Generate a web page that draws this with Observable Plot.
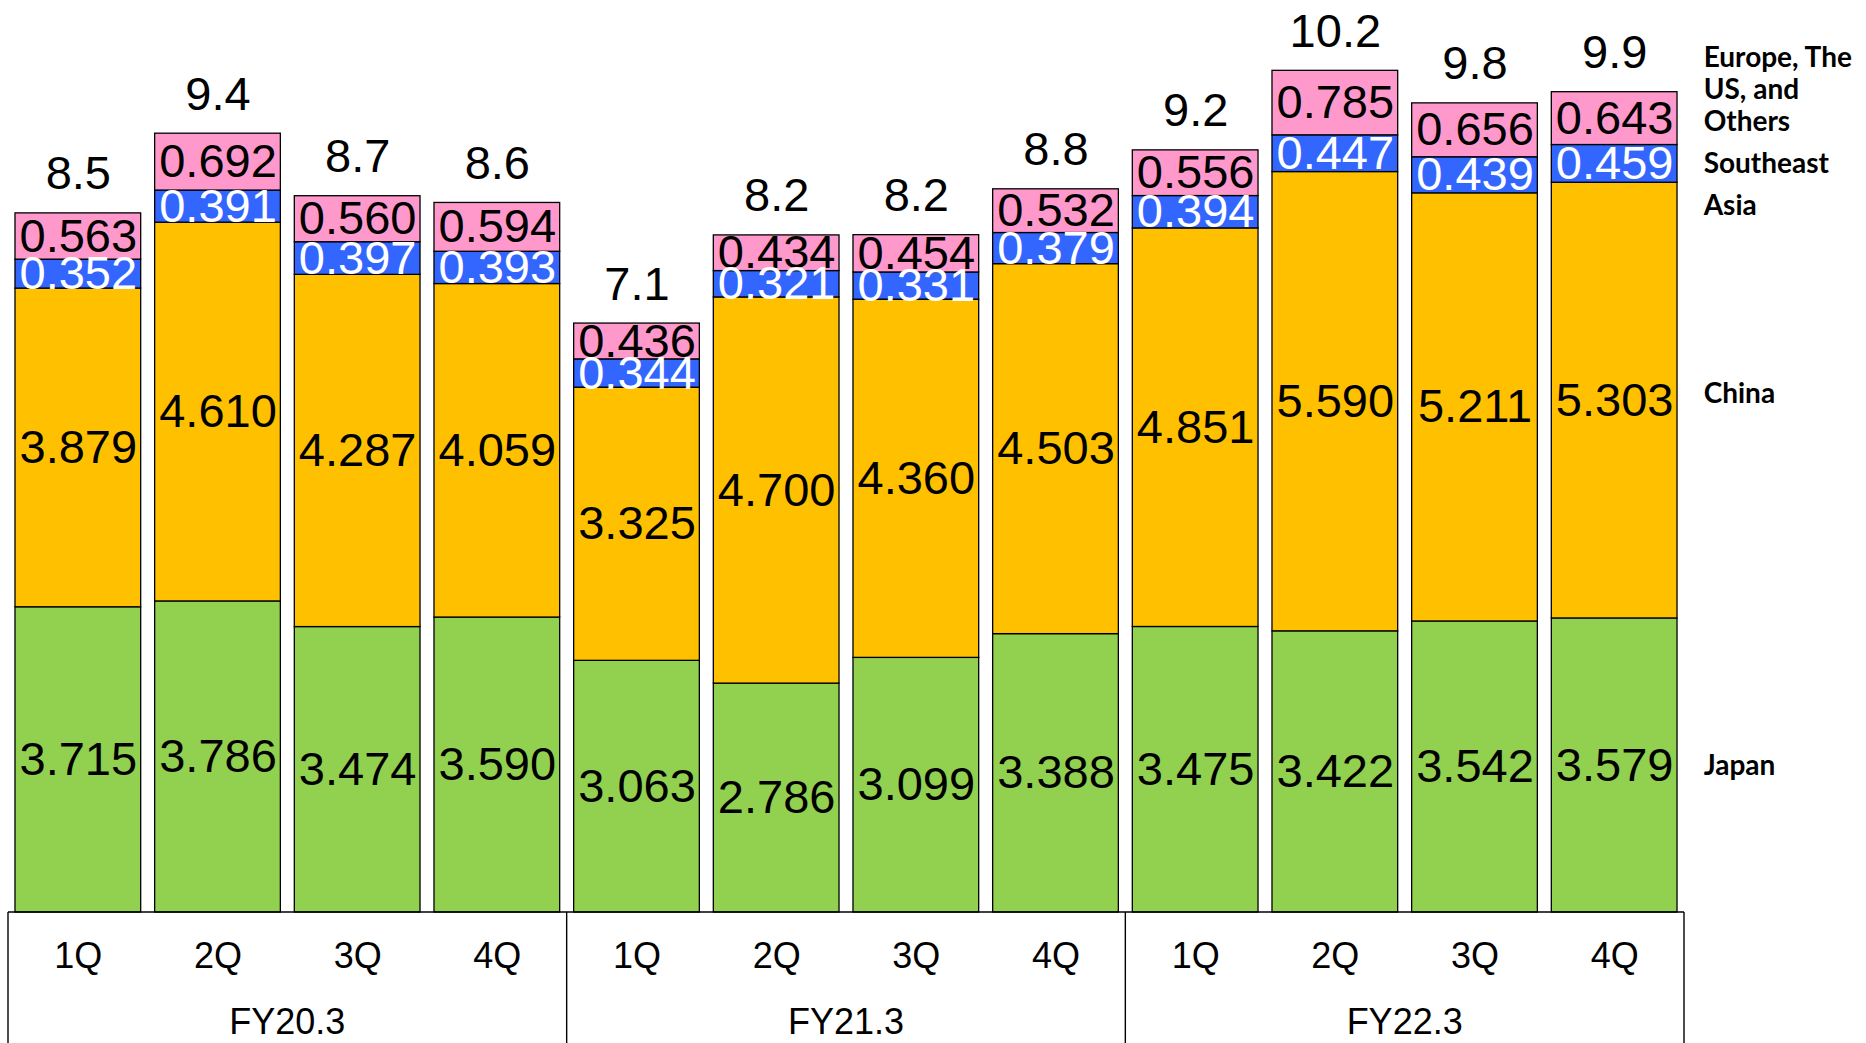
<!DOCTYPE html>
<html>
<head>
<meta charset="utf-8">
<script src="https://cdn.jsdelivr.net/npm/d3@7"></script>
<script src="https://cdn.jsdelivr.net/npm/@observablehq/plot@0.6"></script>
<style>
  html, body { margin: 0; padding: 0; background: #fff; }
  #chart svg { display: block; }
</style>
</head>
<body>
<div id="chart"></div>
<script>
// Quarterly sales by region (stacked), three fiscal years
const fiscalYears = ["FY20.3", "FY21.3", "FY22.3"];
const quarters = ["1Q", "2Q", "3Q", "4Q"];
const regions = ["Japan", "China", "Southeast Asia", "Europe, The US, and Others"];

const japan          = [3.715, 3.786, 3.474, 3.590, 3.063, 2.786, 3.099, 3.388, 3.475, 3.422, 3.542, 3.579];
const china          = [3.879, 4.610, 4.287, 4.059, 3.325, 4.700, 4.360, 4.503, 4.851, 5.590, 5.211, 5.303];
const southeastAsia  = [0.352, 0.391, 0.397, 0.393, 0.344, 0.321, 0.331, 0.379, 0.394, 0.447, 0.439, 0.459];
const europeUsOthers = [0.563, 0.692, 0.560, 0.594, 0.436, 0.434, 0.454, 0.532, 0.556, 0.785, 0.656, 0.643];
const totalLabels    = ["8.5", "9.4", "8.7", "8.6", "7.1", "8.2", "8.2", "8.8", "9.2", "10.2", "9.8", "9.9"];

const regionColors = ["#92D050", "#FFC000", "#3366FF", "#FF99CC"];
const seriesLabels = ["Japan", "China", "Southeast\nAsia", "Europe, The\nUS, and\nOthers"];

const series = [japan, china, southeastAsia, europeUsOthers];

// One row per period
const periods = [];
fiscalYears.forEach(fy => quarters.forEach(q => periods.push({fy, q, key: `${fy} ${q}`})));
const keys = periods.map(p => p.key);

// Long format for stacking
const rows = [];
periods.forEach((p, i) => {
  regions.forEach((r, j) => rows.push({key: p.key, fy: p.fy, q: p.q, region: r, value: series[j][i]}));
});

const tops = periods.map((p, i) => ({key: p.key, top: d3.sum(series, s => s[i]), label: totalLabels[i]}));

// Series names beside the last bar, at the middle of each of its segments
const last = keys.length - 1;
let acc = 0;
const legendRows = regions.map((r, j) => {
  const v = series[j][last];
  const mid = acc + v / 2;
  acc += v;
  return {key: keys[last], y: mid, text: seriesLabels[j], region: r};
});

const numFont = "'Liberation Sans', Arial, Helvetica, sans-serif";
const legendFont = "Lato, 'Open Sans', sans-serif";

// Category box under the bars: top rule, group dividers and fiscal-year names
function categoryFrame(index, scales, values, dimensions) {
  const x = scales.x, y = scales.y;
  const step = x.step(), bw = x.bandwidth();
  const half = (step - bw) / 2;
  const y0 = y(0);
  const bottom = dimensions.height;
  const g = d3.create("svg:g");
  const left = x(keys[0]) - half;
  const right = x(keys[last]) + bw + half;
  g.append("line")
    .attr("x1", left).attr("x2", right).attr("y1", y0).attr("y2", y0)
    .attr("stroke", "#000").attr("stroke-width", 1.6);
  fiscalYears.forEach((fy, k) => {
    const first = x(`${fy} ${quarters[0]}`) - half;
    const end = x(`${fy} ${quarters[quarters.length - 1]}`) + bw + half;
    if (k === 0) {
      g.append("line").attr("x1", first).attr("x2", first).attr("y1", y0).attr("y2", bottom)
        .attr("stroke", "#000").attr("stroke-width", 1.4);
    }
    g.append("line").attr("x1", end).attr("x2", end).attr("y1", y0).attr("y2", bottom)
      .attr("stroke", "#000").attr("stroke-width", 1.4);
    g.append("text")
      .attr("x", (first + end) / 2).attr("y", y0 + 109)
      .attr("dy", "0.35em")
      .attr("text-anchor", "middle")
      .attr("font-family", numFont)
      .attr("font-size", 36)
      .attr("fill", "#000")
      .text(fy);
  });
  return g.node();
}

const chart = Plot.plot({
  width: 1866,
  height: 1043,
  marginLeft: 8,
  marginRight: 182,
  marginTop: 0,
  marginBottom: 131,
  style: {background: "#fff", overflow: "visible"},
  x: {domain: keys, axis: null, paddingInner: 0.1, paddingOuter: 0.05, round: false},
  y: {domain: [0, 11.1], axis: null},
  color: {domain: regions, range: regionColors},
  marks: [
    Plot.barY(rows, {x: "key", y: "value", fill: "region", stroke: "#000", strokeWidth: 1.3}),
    // segment values: dark text on all but the blue segment
    Plot.text(rows, Plot.stackY({
      x: "key", y: "value",
      text: d => d.region === "Southeast Asia" ? "" : d.value.toFixed(3),
      fill: "#000", fontSize: 47, fontFamily: numFont
    })),
    Plot.text(rows, Plot.stackY({
      x: "key", y: "value",
      text: d => d.region === "Southeast Asia" ? d.value.toFixed(3) : "",
      fill: "#fff", fontSize: 47, fontFamily: numFont
    })),
    // totals above each bar
    Plot.text(tops, {x: "key", y: "top", text: "label", dy: -39, fill: "#000", fontSize: 47, fontFamily: numFont}),
    // quarter names
    Plot.text(periods, {x: "key", y: 0, text: "q", dy: 44, fill: "#000", fontSize: 36, fontFamily: numFont}),
    categoryFrame,
    // series names
    Plot.text(legendRows.filter(d => d.region === "Europe, The US, and Others"), {
      x: "key", y: "y", text: "text", dx: 89, dy: -30, textAnchor: "start", lineHeight: 1.16,
      fontSize: 28, fontWeight: "bold", fontFamily: legendFont, fill: "#000"
    }),
    Plot.text(legendRows.filter(d => d.region === "Southeast Asia"), {
      x: "key", y: "y", text: "text", dx: 89, dy: 17, textAnchor: "start", lineHeight: 1.5,
      fontSize: 28, fontWeight: "bold", fontFamily: legendFont, fill: "#000"
    }),
    Plot.text(legendRows.filter(d => d.region === "China"), {
      x: "key", y: "y", text: "text", dx: 89, dy: -7, textAnchor: "start",
      fontSize: 28, fontWeight: "bold", fontFamily: legendFont, fill: "#000"
    }),
    Plot.text(legendRows.filter(d => d.region === "Japan"), {
      x: "key", y: "y", text: "text", dx: 89, dy: 1, textAnchor: "start",
      fontSize: 28, fontWeight: "bold", fontFamily: legendFont, fill: "#000"
    })
  ]
});

document.getElementById("chart").appendChild(chart);
</script>
</body>
</html>
